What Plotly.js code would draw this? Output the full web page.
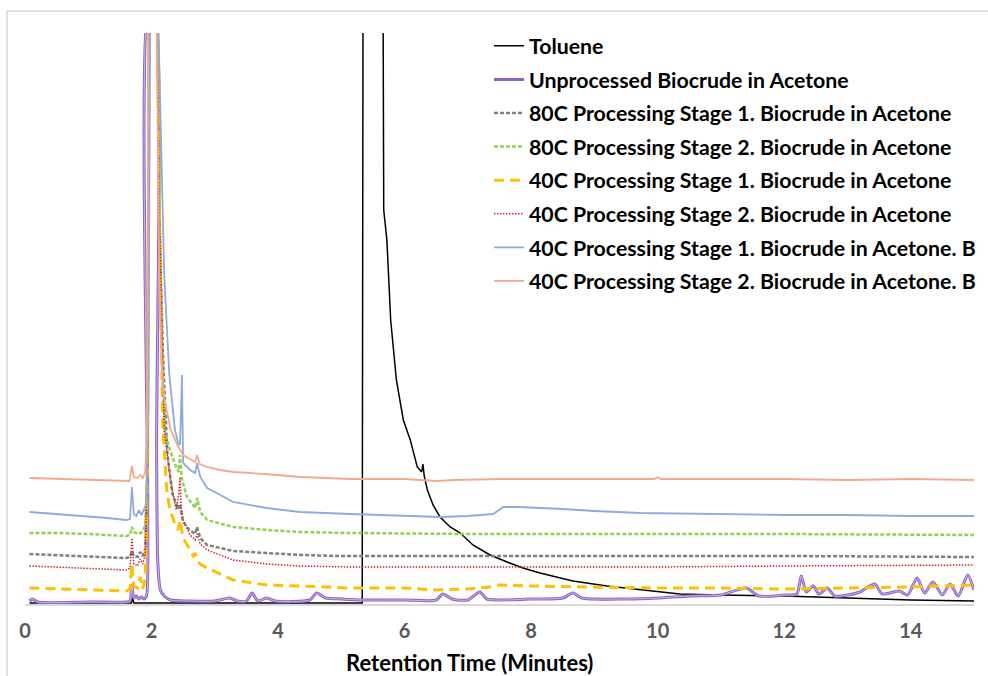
<!DOCTYPE html>
<html>
<head>
<meta charset="utf-8">
<script src="https://cdn.plot.ly/plotly-3.0.1.min.js"></script>
<style>html,body{margin:0;padding:0;background:#fff;}#chart{width:988px;height:676px;}</style>
</head>
<body>
<div id="chart"></div>
<script>
// Series names
const names = [
  "Toluene",
  "Unprocessed Biocrude in Acetone",
  "80C Processing Stage 1. Biocrude in Acetone",
  "80C Processing Stage 2. Biocrude in Acetone",
  "40C Processing Stage 1. Biocrude in Acetone",
  "40C Processing Stage 2. Biocrude in Acetone",
  "40C Processing Stage 1. Biocrude in Acetone. B",
  "40C Processing Stage 2. Biocrude in Acetone. B"
];
const xTicks = [0, 2, 4, 6, 8, 10, 12, 14];

// Toluene
const toluene_t = [0.07, 1.68, 1.70, 1.72, 5.33, 5.345, 5.655, 5.67, 5.72, 5.78, 5.87, 5.98, 6.09, 6.20, 6.27, 6.29, 6.31, 6.36, 6.45, 6.56, 6.72, 6.88, 7.08, 7.35, 7.62, 7.87, 8.14, 8.66, 9.2, 9.6, 10.35, 11, 12, 13, 14, 15];
const toluene_y = [1, 1, 6, 1, 1, 700, 700, 394, 364, 284, 224, 184, 164, 137, 132, 140, 128, 114, 99, 87, 77, 71, 59, 49, 42, 36, 31, 23, 18, 15, 10, 9, 8, 6, 4, 3];

// Unprocessed biocrude
const unproc_t = [0.07, 0.12, 0.2, 1.0, 1.6, 1.66, 1.69, 1.72, 1.76, 1.80, 1.84, 1.88, 1.92, 1.94, 1.96, 2.04, 2.08, 2.10, 2.14, 2.2, 2.3, 2.6, 3.0, 3.24, 3.35, 3.5, 3.59, 3.68, 3.82, 3.95, 4.5, 4.61, 4.75, 5.0, 5.35, 6.0, 6.5, 6.6, 6.75, 7.0, 7.19, 7.3, 8.0, 8.5, 8.66, 8.8, 9.5, 10.0, 10.5, 11.0, 11.4, 11.6, 12.0, 12.2, 12.27, 12.35, 12.46, 12.55, 12.68, 12.8, 13.0, 13.2, 13.43, 13.55, 13.82, 13.95, 14.1, 14.22, 14.35, 14.5, 14.62, 14.75, 14.9, 15.0];
const unproc_y = [3, 5, 2, 2, 2, 3, 19, 6, 8, 5, 7, 5, 8, 100, 600, 600, 150, 40, 14, 8, 4, 3, 3, 6, 3, 3, 11, 3, 6, 3, 4, 11, 6, 5, 4, 4, 4, 10, 5, 4, 12, 5, 5, 6, 11, 6, 5, 6, 8, 9, 16, 8, 9, 10, 28, 12, 18, 10, 16, 8, 9, 12, 20, 10, 13, 9, 26, 11, 22, 9, 20, 8, 29, 14];

// 80C Stage 1
const s1_80_t = [0.07, 0.5, 1.0, 1.6, 1.66, 1.69, 1.72, 1.78, 1.82, 1.86, 1.90, 1.94, 1.96, 2.09, 2.12, 2.18, 2.25, 2.33, 2.42, 2.45, 2.48, 2.5, 2.6, 2.69, 2.72, 2.77, 2.88, 3.29, 3.82, 4.35, 5.0, 8, 10, 12, 15];
const s1_80_y = [50, 49, 48, 46, 47, 53, 48, 47, 52, 48, 55, 150, 600, 600, 400, 250, 150, 110, 95, 100, 88, 82, 74, 70, 77, 66, 59, 53, 51, 49, 48, 48, 48, 48, 47];

// 80C Stage 2
const s2_80_t = [0.07, 0.5, 1.0, 1.6, 1.66, 1.69, 1.72, 1.80, 1.85, 1.90, 1.94, 1.96, 2.09, 2.13, 2.17, 2.21, 2.29, 2.37, 2.43, 2.45, 2.48, 2.56, 2.69, 2.72, 2.77, 2.88, 3.29, 3.82, 4.35, 5.14, 7, 10, 12, 15];
const s2_80_y = [71, 71, 70, 68, 69, 77, 72, 70, 72, 78, 150, 600, 600, 380, 230, 174, 154, 140, 132, 149, 125, 107, 96, 106, 92, 84, 77, 74, 72, 71, 70, 70, 70, 69];

// 40C Stage 1
const s1_40_t = [0.07, 0.5, 1.0, 1.6, 1.66, 1.69, 1.72, 1.78, 1.82, 1.86, 1.90, 1.94, 1.96, 2.09, 2.12, 2.18, 2.24, 2.29, 2.37, 2.42, 2.45, 2.48, 2.5, 2.61, 2.66, 2.69, 2.72, 2.77, 2.88, 3.29, 3.82, 4.35, 5.14, 6.0, 6.5, 7.0, 7.35, 7.5, 8.0, 9.0, 10, 11, 12, 13, 14, 15];
const s1_40_y = [16, 15, 14, 13, 15, 40, 18, 16, 27, 15, 25, 150, 600, 600, 400, 174, 114, 94, 80, 74, 84, 70, 66, 54, 48, 51, 44, 40, 36, 24, 19, 18, 16, 16, 14, 15, 17, 19, 18, 17, 16, 16, 15, 16, 17, 19];

// 40C Stage 2
const s2_40_t = [0.07, 0.5, 1.0, 1.6, 1.66, 1.69, 1.72, 1.78, 1.82, 1.86, 1.90, 1.94, 1.96, 2.09, 2.12, 2.2, 2.3, 2.39, 2.43, 2.45, 2.47, 2.5, 2.61, 2.69, 2.72, 2.77, 2.88, 3.29, 3.82, 4.35, 5.14, 8, 10, 12, 15];
const s2_40_y = [38, 37, 36, 34, 36, 66, 40, 38, 45, 40, 50, 150, 600, 600, 400, 174, 124, 94, 110, 127, 95, 84, 69, 64, 70, 60, 54, 44, 40, 38, 37, 37, 37, 38, 39];

// 40C Stage 1 B
const s1_40b_t = [0.07, 0.5, 1.0, 1.3, 1.6, 1.66, 1.69, 1.72, 1.76, 1.80, 1.84, 1.88, 1.92, 1.95, 1.98, 2.10, 2.15, 2.2, 2.28, 2.37, 2.42, 2.45, 2.47, 2.48, 2.50, 2.61, 2.69, 2.72, 2.77, 2.88, 3.03, 3.29, 3.82, 4.35, 5.14, 6.0, 6.57, 7.0, 7.4, 7.56, 7.8, 8.5, 9.0, 9.73, 11, 12, 13, 14, 15];
const s1_40b_y = [92, 90, 87, 86, 84, 85, 117, 90, 88, 94, 89, 95, 100, 200, 600, 600, 450, 330, 230, 174, 161, 159, 200, 229, 141, 134, 131, 141, 127, 116, 111, 102, 96, 92, 90, 88, 87, 88, 90, 97, 97, 95, 93, 91, 90, 89, 89, 88, 88];

// 40C Stage 2 B
const s2_40b_t = [0.07, 0.5, 1.0, 1.5, 1.65, 1.69, 1.72, 1.78, 1.82, 1.86, 1.90, 1.93, 1.95, 2.08, 2.12, 2.16, 2.2, 2.3, 2.4, 2.5, 2.6, 2.69, 2.72, 2.76, 2.88, 3.08, 3.3, 3.8, 4.35, 5.14, 6.0, 6.5, 6.8, 7.5, 8.5, 9.5, 9.95, 10.0, 10.05, 11, 12, 13, 14, 15];
const s2_40b_y = [126, 125, 124, 123, 123, 138, 127, 126, 129, 126, 132, 180, 600, 600, 330, 240, 205, 175, 160, 149, 145, 142, 149, 140, 137, 134, 132, 130, 127, 125, 125, 123, 124, 125, 125, 125, 125, 127, 125, 125, 125, 124, 125, 124];

const F = "Lato, 'Open Sans', sans-serif";

function tr(name, x, y, line, opts) {
  return Object.assign({
    type: 'scatter', mode: 'lines', name: name, x: x, y: y,
    line: line, legendgroup: name, hoverinfo: 'skip'
  }, opts || {});
}

const data = [
  tr(names[0], toluene_t, toluene_y, {color: '#000000', width: 1.5}),
  tr(names[1], unproc_t, unproc_y, {color: '#8C62C6', width: 3, shape: 'spline', smoothing: 0.7}),
  tr(names[1] + ' inner', unproc_t, unproc_y, {color: '#DCCDEE', width: 0.8, shape: 'spline', smoothing: 0.7}, {showlegend: false, legendgroup: names[1]}),
  tr(names[2], s1_80_t, s1_80_y, {color: '#808080', width: 2.5, dash: '4px,2px'}),
  tr(names[3], s2_80_t, s2_80_y, {color: '#92D050', width: 2.5, dash: '4px,2px'}),
  tr(names[4], s1_40_t, s1_40_y, {color: '#FFC000', width: 3, dash: '10px,6px'}),
  tr(names[5], s2_40_t, s2_40_y, {color: '#C8282A', width: 1.5, dash: '1.5px,1.5px'}),
  tr(names[6], s1_40b_t, s1_40b_y, {color: '#8FAADC', width: 1.8}),
  tr(names[7], s2_40b_t, s2_40b_y, {color: '#F4A98E', width: 1.8})
];

const layout = {
  width: 988, height: 676,
  margin: {l: 25, r: 14, t: 33, b: 72, autoexpand: false},
  paper_bgcolor: '#ffffff', plot_bgcolor: '#ffffff',
  font: {family: F},
  showlegend: true,
  legend: {
    x: 0.4889, y: 1.0132, xanchor: 'left', yanchor: 'top',
    bgcolor: 'rgba(0,0,0,0)', borderwidth: 0,
    font: {family: F, size: 21.3, color: '#000000', weight: 700},
    tracegroupgap: 2.9, itemwidth: 30, traceorder: 'grouped'
  },
  xaxis: {
    range: [0, 15], tickvals: xTicks, ticktext: xTicks.map(String),
    showgrid: false, zeroline: false, showline: true,
    linecolor: '#D9D9D9', linewidth: 1.5, ticks: '',
    ticklabelstandoff: 8,
    tickfont: {family: F, size: 20, color: '#595959', weight: 700}
  },
  yaxis: {range: [0, 571], visible: false, showgrid: false, zeroline: false},
  annotations: [{
    text: 'Retention Time (Minutes)', xref: 'paper', yref: 'paper',
    x: 0.468, y: -0.103, xanchor: 'center', yanchor: 'middle', showarrow: false,
    font: {family: F, size: 22, color: '#000000', weight: 700}
  }],
  shapes: [{
    type: 'rect', xref: 'paper', yref: 'paper',
    x0: -0.019, x1: 1.02, y0: -0.14, y1: 1.0385,
    line: {color: '#D9D9D9', width: 1.5}, fillcolor: 'rgba(0,0,0,0)', layer: 'below'
  }]
};

Plotly.newPlot('chart', data, layout, {displayModeBar: false, staticPlot: true});
</script>
</body>
</html>
